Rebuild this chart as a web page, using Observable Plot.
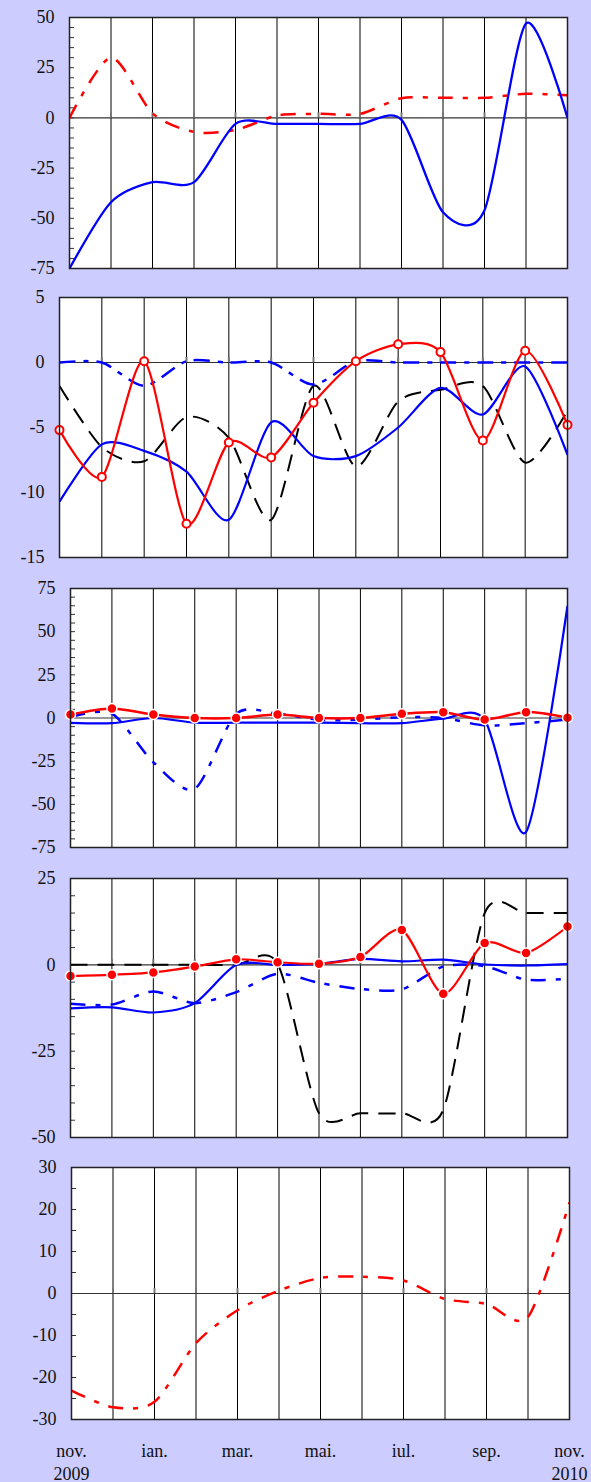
<!DOCTYPE html>
<html><head><meta charset="utf-8">
<script src="https://cdn.jsdelivr.net/npm/d3@7"></script>
<script src="https://cdn.jsdelivr.net/npm/@observablehq/plot@0.6"></script>
<style>
html,body{margin:0;padding:0;background:#ccccff;}
#chart svg{display:block;}
</style></head><body><div id="chart"></div>
<script>
// month index 0..12 : nov. 2009 ... nov. 2010
const months = ["nov. 2009","dec.","ian.","feb.","mar.","apr.","mai.","iun.","iul.","aug.","sep.","oct.","nov. 2010"];
const xTickIdx = [0,2,4,6,8,10,12];
const xTickLabels = ["nov.\n2009","ian.","mar.","mai.","iul.","sep.","nov.\n2010"];

// panel 1
const p1Ticks = [-75,-50,-25,0,25,50];
const p1Blue = [-75,-42,-32,-32,-3,-3,-3,-3,-1,-47,-46,47,0];
const p1Red  = [0,30,2.3,-7,-6,1.2,2,2,9.8,10,10,12,11.3];

// panel 2
const p2Ticks = [-15,-10,-5,0,5];
const p2Red      = [-5.2,-8.8,0.1,-12.4,-6.15,-7.3,-3.1,0.1,1.4,0.8,-6.0,0.9,-4.8];
const p2Blue     = [-10.7,-6.3,-6.8,-8.4,-12.1,-4.6,-7.2,-7.2,-5.0,-1.95,-4.0,-0.3,-7.1];
const p2BlueDash = [0,0,-1.8,0.1,0,0,-1.7,0.1,0,0,0,0,0];
const p2Black    = [-1.8,-6.5,-7.6,-4.2,-5.8,-12.1,-1.8,-8.0,-3.0,-2.1,-1.8,-7.7,-3.7];

// panel 3
const p3Ticks = [-75,-50,-25,0,25,50,75];
const p3Red      = [2,5.5,2,0,0,2,0,0,2.4,3.4,-0.9,3.4,0.2];
const p3Blue     = [-2.8,-3,0,-2.7,-2.7,-2.7,-2.7,-3,-3,-0.4,-1,-66,65];
const p3BlueDash = [0.5,2.5,-25.6,-41,2.4,2.4,-1,-1,0.5,0,-4.3,-3,-0.9];

// panel 4
const p4Ticks = [-50,-25,0,25];
const p4Red      = [-3.2,-2.9,-2.2,-0.5,1.6,0.75,0.3,2.3,10.1,-8.4,6.3,3.4,11.1];
const p4Blue     = [-12.6,-12.3,-13.8,-11.1,0,0,0.3,1.7,1.0,1.5,0.1,-0.2,0.2];
const p4BlueDash = [-11.3,-11.5,-7.7,-11.1,-7.9,-2.6,-5.2,-7.0,-7.1,-0.5,-0.4,-4.3,-4.0];
const p4Black    = [0,0,0,0,0,0.3,-43,-43,-43,-42,15,15,15];

// panel 5
const p5Ticks = [-30,-20,-10,0,10,20,30];
const p5Red = [-23.1,-27.1,-25.8,-11.8,-4.0,0.7,3.7,4.0,3.1,-1.3,-2.5,-5.6,21.7];

const RED = "#ff0000", BLUE = "#0000ff", BLACK = "#000000";
const DASHDOT = "15,10,5,10";
const DASHED = "17,10";
const FONT = "Liberation Serif";

function toRows(vals){ return vals.map((v,i)=>({i, v})); }

function panel(cfg){
  const {height, mt, mb, ml, mr, domain, ticks, minorStep, series, xAxis} = cfg;
  const plotH = height - mt - mb;
  const plotW = 591 - ml - mr;
  const unitsPerPx = (domain[1]-domain[0]) / plotH;
  const monthsPerPx = 12 / plotW;
  const marks = [];
  marks.push(Plot.frame({fill: "white", stroke: "none"}));
  marks.push(Plot.ruleX(d3.range(1,12), {stroke: BLACK, strokeWidth: 1}));
  marks.push(Plot.ruleY([0], {stroke: "#333", strokeWidth: 1.2}));
  // month tick marks on the zero line
  marks.push(Plot.ruleX(d3.range(1,12), {y1: 0, y2: 5*unitsPerPx, stroke: "#777", strokeWidth: 2}));
  if (minorStep) {
    const minors = d3.range(domain[0], domain[1] + 1e-9, minorStep);
    marks.push(Plot.ruleY(minors, {x1: 0, x2: 5*monthsPerPx, stroke: "#333", strokeWidth: 1}));
  }
  for (const s of series) {
    marks.push(Plot.line(toRows(s.values), {
      x: "i", y: "v", stroke: s.color, strokeWidth: s.width || 2.2,
      strokeDasharray: s.dash || null, curve: "cardinal", tension: 0.2,
      strokeLinecap: "butt", clip: true
    }));
    if (s.marker === "hollow") {
      marks.push(Plot.dot(toRows(s.values), {x: "i", y: "v", r: 4, fill: "white", stroke: s.color, strokeWidth: 2}));
    } else if (s.marker === "filled") {
      marks.push(Plot.dot(toRows(s.values), {x: "i", y: "v", r: 5, fill: s.color, stroke: "white", strokeWidth: 1.5}));
    }
  }
  marks.push(Plot.frame({stroke: "#222", strokeWidth: 1.5}));
  // y tick labels
  marks.push(Plot.text(ticks, {y: d => d, frameAnchor: "left", dx: -15, textAnchor: "end",
    text: d => String(d), fontSize: 18, fontFamily: FONT, fill: "#111"}));
  if (xAxis) {
    marks.push(Plot.text(xTickIdx, {x: d => d, frameAnchor: "bottom", dy: 21,
      text: d => xTickLabels[xTickIdx.indexOf(d)], lineAnchor: "top", lineHeight: 1.28,
      fontSize: 18, fontFamily: FONT, fill: "#111"}));
  }
  return Plot.plot({
    width: 591, height,
    marginTop: mt, marginBottom: mb, marginLeft: ml, marginRight: mr,
    x: {domain: [0,12], axis: null},
    y: {domain, axis: null},
    style: {background: "transparent", fontFamily: FONT, fontSize: "18px", overflow: "visible"},
    marks
  });
}

const chart = document.getElementById("chart");
chart.appendChild(panel({height: 280, mt: 17, mb: 12, ml: 69, mr: 24, domain: [-75,50], ticks: p1Ticks, minorStep: 5,
  series: [
    {values: p1Red, color: RED, dash: DASHDOT, width: 2.5},
    {values: p1Blue, color: BLUE, width: 2.3}
  ]}));
chart.appendChild(panel({height: 290, mt: 17, mb: 13, ml: 59, mr: 24, domain: [-15,5], ticks: p2Ticks, minorStep: null,
  series: [
    {values: p2Black, color: BLACK, dash: DASHED, width: 2},
    {values: p2BlueDash, color: BLUE, dash: "16,8,5,8", width: 2.5},
    {values: p2Blue, color: BLUE, width: 2.2},
    {values: p2Red, color: RED, width: 2.2, marker: "hollow"}
  ]}));
chart.appendChild(panel({height: 290, mt: 18, mb: 13, ml: 70, mr: 24, domain: [-75,75], ticks: p3Ticks, minorStep: 5,
  series: [
    {values: p3BlueDash, color: BLUE, dash: DASHDOT, width: 2.5},
    {values: p3Blue, color: BLUE, width: 2.2},
    {values: p3Red, color: RED, width: 2.5, marker: "filled"}
  ]}));
chart.appendChild(panel({height: 290, mt: 18, mb: 13, ml: 70, mr: 24, domain: [-50,25], ticks: p4Ticks, minorStep: 5,
  series: [
    {values: p4Black, color: BLACK, dash: DASHED, width: 2},
    {values: p4BlueDash, color: BLUE, dash: DASHDOT, width: 2.5},
    {values: p4Blue, color: BLUE, width: 2.2},
    {values: p4Red, color: RED, width: 2.2, marker: "filled"}
  ]}));
chart.appendChild(panel({height: 332, mt: 17, mb: 63, ml: 71, mr: 22, domain: [-30,30], ticks: p5Ticks, minorStep: 5, xAxis: true,
  series: [
    {values: p5Red, color: RED, dash: DASHDOT, width: 2.5}
  ]}));
</script></body></html>
